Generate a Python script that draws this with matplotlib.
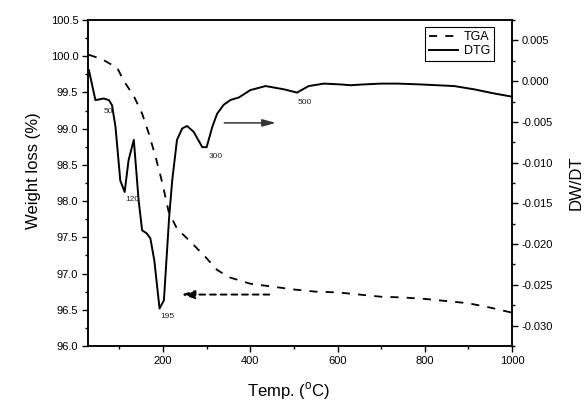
import matplotlib
matplotlib.use('Agg')
import matplotlib.pyplot as plt
from matplotlib.ticker import MultipleLocator, FormatStrFormatter

plt.rcParams['font.family'] = ['Liberation Sans', 'DejaVu Sans']
plt.rcParams['axes.unicode_minus'] = False

# TGA curve (weight loss, %)
tga_temp = [30, 60, 95, 110, 133, 152, 167, 183, 198, 213, 232, 263, 297, 324, 351,
            400, 450, 500, 550, 600, 650, 700, 750, 800, 850, 900, 950, 1000]
tga_weight = [100.02, 99.96, 99.84, 99.66, 99.45, 99.21, 98.94, 98.61, 98.26, 97.85,
              97.62, 97.44, 97.23, 97.05, 96.95, 96.86, 96.82, 96.78, 96.75, 96.74,
              96.71, 96.68, 96.67, 96.65, 96.62, 96.59, 96.53, 96.46]

# DTG curve (DW/DT)
dtg_temp = [30, 45, 64, 76, 83, 91, 102, 112, 121, 133, 144, 152, 163, 171, 180, 192,
            202, 214, 221, 232, 244, 255, 270, 290, 300, 313, 324, 339, 355, 374, 400,
            435, 477, 507, 534, 569, 607, 630, 660, 700, 738, 790, 829, 867, 913, 958, 1000]
dtg_value = [0.00135, -0.00233, -0.00213, -0.00233, -0.00295, -0.0056, -0.0122, -0.0136,
             -0.0097, -0.0072, -0.0146, -0.0183, -0.0187, -0.0193, -0.0220, -0.0279,
             -0.0269, -0.0167, -0.0122, -0.0072, -0.0058, -0.0055, -0.0062, -0.0081,
             -0.0081, -0.0056, -0.0040, -0.0029, -0.0023, -0.0020, -0.0011, -0.0006,
             -0.0010, -0.0014, -0.0006, -0.0003, -0.0004, -0.0005, -0.0004, -0.0003,
             -0.0003, -0.0004, -0.0005, -0.0006, -0.0010, -0.0015, -0.0019]

# peak labels on the DTG curve: (text, temp, dtg)
peak_labels = [('50', 74, -0.0037), ('120', 129, -0.0145), ('195', 209, -0.0289),
               ('300', 320, -0.0092), ('500', 524, -0.0026)]

fig = plt.figure(figsize=(5.84, 4.01), dpi=100)
ax = fig.add_axes([0.1507, 0.1372, 0.726, 0.8128])
ax2 = ax.twinx()

line_tga, = ax.plot(tga_temp, tga_weight, color='black', lw=1.3,
                    linestyle=(0, (4.5, 4.5)), label='TGA')
line_dtg, = ax2.plot(dtg_temp, dtg_value, color='black', lw=1.4, label='DTG')

ax.set_xlim(28, 1000)
ax.set_ylim(96.0, 100.5)
ax2.set_ylim(-0.0325, 0.0075)

ax.xaxis.set_major_locator(MultipleLocator(200))
ax.xaxis.set_minor_locator(MultipleLocator(100))
ax.yaxis.set_major_locator(MultipleLocator(0.5))
ax.yaxis.set_minor_locator(MultipleLocator(0.25))
ax.yaxis.set_major_formatter(FormatStrFormatter('%.1f'))
ax2.yaxis.set_major_locator(MultipleLocator(0.005))
ax2.yaxis.set_minor_locator(MultipleLocator(0.0025))
ax2.yaxis.set_major_formatter(FormatStrFormatter('%.3f'))

for a in (ax, ax2):
    a.tick_params(which='major', direction='out', length=4, width=1, labelsize=8, pad=3)
    a.tick_params(which='minor', direction='out', length=2.2, width=1)
    for s in a.spines.values():
        s.set_linewidth(1.1)
ax.tick_params(axis='both', top=False, right=False)

ax.set_xlabel('Temp. ($^{\\mathregular{o}}$C)', fontsize=12)
ax.xaxis.set_label_coords(0.472, -0.105)
ax.set_ylabel('Weight loss (%)', fontsize=12)
ax.yaxis.set_label_coords(-0.112, 0.537)
ax2.set_ylabel('DW/DT', fontsize=12)
ax2.yaxis.set_label_coords(1.133, 0.5)

for txt, t, d in peak_labels:
    ax2.text(t, d, txt, fontsize=6, ha='center', va='center', color='#222222')

# arrows pointing to the axis each curve belongs to
ax.annotate('', xy=(465, 99.08), xytext=(334, 99.08),
            arrowprops=dict(arrowstyle='-|>,head_length=0.8,head_width=0.22',
                            color='#333333', lw=1.1, mutation_scale=10))
ax.annotate('', xy=(235, 96.71), xytext=(450, 96.71),
            arrowprops=dict(arrowstyle='-|>,head_length=0.8,head_width=0.25',
                            color='black', lw=1.4, linestyle=(0, (3, 2.5)),
                            mutation_scale=10))

leg = ax.legend([line_tga, line_dtg], ['TGA', 'DTG'], loc='upper right',
                bbox_to_anchor=(0.958, 0.978), borderaxespad=0, fontsize=9,
                frameon=True, fancybox=False, framealpha=1, edgecolor='black',
                handlelength=2.3, handletextpad=0.5, labelspacing=0.2, borderpad=0.3)
leg.get_frame().set_linewidth(0.8)

fig.savefig('out.png', dpi=100)
